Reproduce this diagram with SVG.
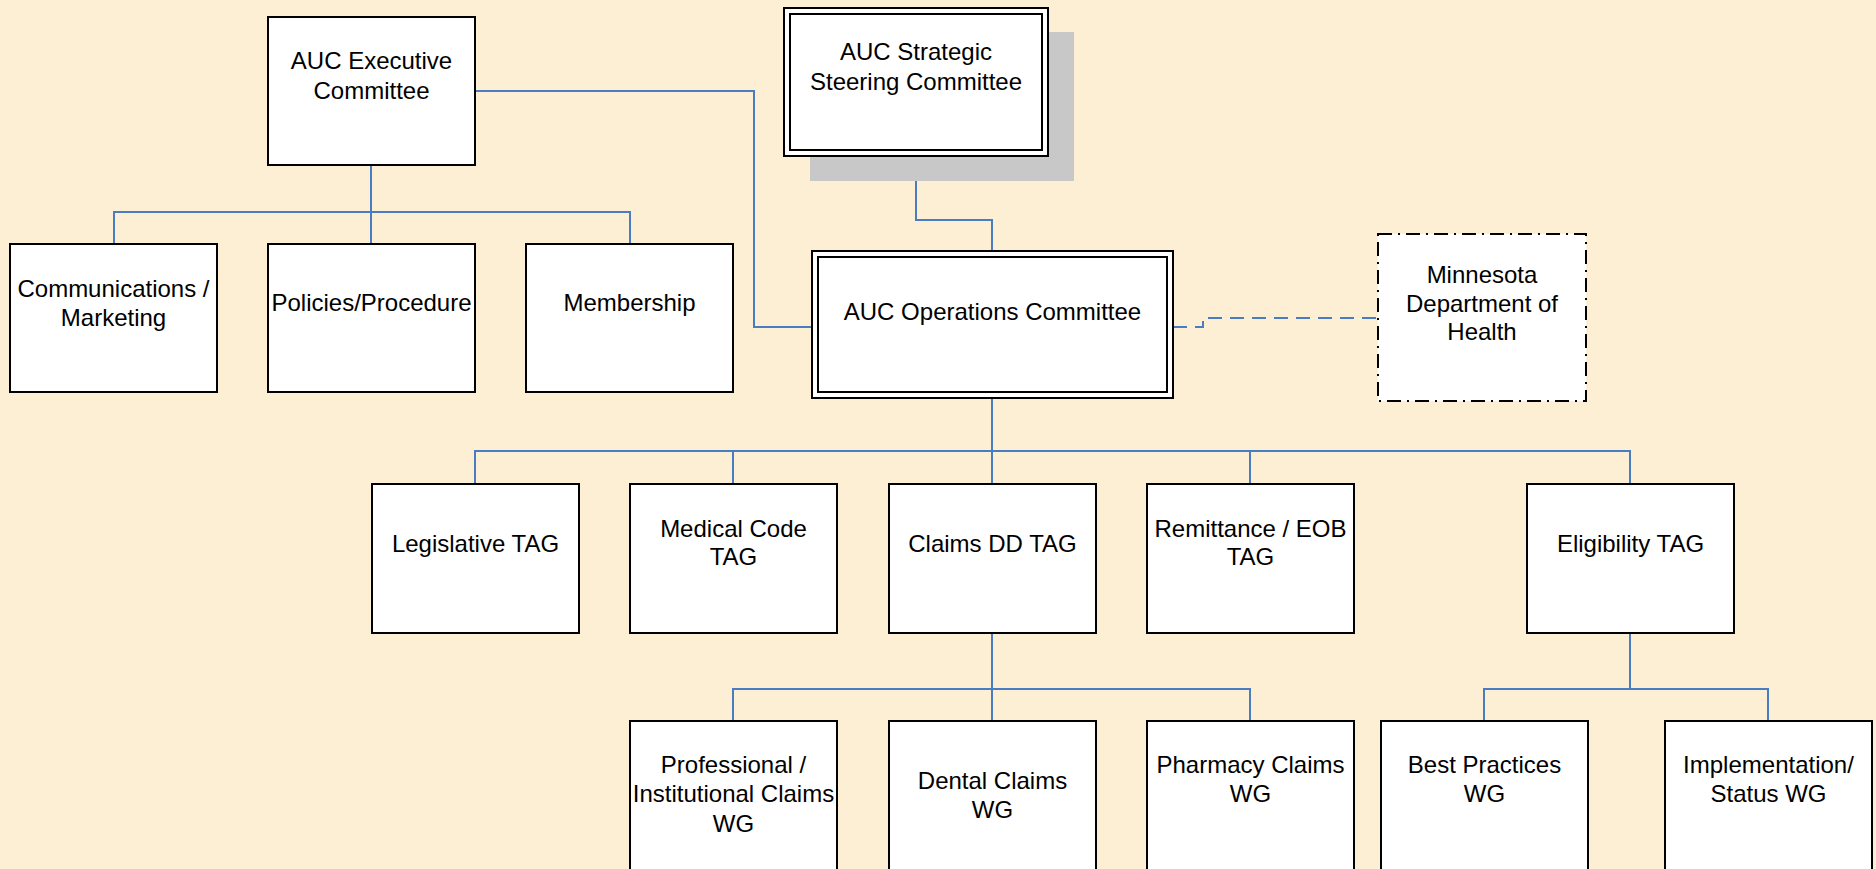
<svg xmlns="http://www.w3.org/2000/svg" width="1876" height="869" viewBox="0 0 1876 869">
<style>
.bg{fill:#FCEFD3}
.box{fill:#fff;stroke:#000;stroke-width:2}
.dbl{fill:none;stroke:#000;stroke-width:2}
.lbl{font-family:"Liberation Sans",Arial,sans-serif;font-size:24px;fill:#000;text-anchor:middle}
.con{fill:none;stroke:#4A7CC4;stroke-width:2}
.dash{fill:none;stroke:#4A7CC4;stroke-width:2;stroke-dasharray:14 8}
.dd{fill:#fff;stroke:#000;stroke-width:2;stroke-dasharray:14 6 2 6}
</style>
<rect class="bg" x="0" y="0" width="1876" height="869"/>
<g id="connectors">
<path class="con" d="M371 165 V212 M114 244 V212 H630 V244 M371 212 V244"/>
<path class="con" d="M475 91 H754 V327 H812"/>
<path class="con" d="M916 156 V220 H992 V251"/>
<path class="dash" d="M1173 327 H1203 V318 H1378"/>
<path class="con" d="M992 398 V451 M475 483 V451 H1630 V483 M733 451 V483 M992 451 V483 M1250 451 V483"/>
<path class="con" d="M992 633 V689 M733 720 V689 H1250 V720 M992 689 V720"/>
<path class="con" d="M1630 633 V689 M1484 720 V689 H1768 V720"/>
</g>
<g id="exec"><rect class="box" x="268" y="17" width="207" height="148"/><text class="lbl" x="371.5" y="69">AUC Executive</text><text class="lbl" x="371.5" y="99">Committee</text></g>
<g id="strategic"><rect x="810" y="32" width="264" height="149" fill="#C8C8C8"/><rect class="box" x="784" y="8" width="264" height="148"/><rect class="dbl" x="790" y="14" width="252" height="136"/><text class="lbl" x="916" y="60">AUC Strategic</text><text class="lbl" x="916" y="90">Steering Committee</text></g>
<g id="comm"><rect class="box" x="10" y="244" width="207" height="148"/><text class="lbl" x="113.5" y="297">Communications /</text><text class="lbl" x="113.5" y="326">Marketing</text></g>
<g id="policies"><rect class="box" x="268" y="244" width="207" height="148"/><text class="lbl" x="371.5" y="311">Policies/Procedure</text></g>
<g id="membership"><rect class="box" x="526" y="244" width="207" height="148"/><text class="lbl" x="629.5" y="311">Membership</text></g>
<g id="ops"><rect class="box" x="812" y="251" width="361" height="147"/><rect class="dbl" x="818" y="257" width="349" height="135"/><text class="lbl" x="992.5" y="320">AUC Operations Committee</text></g>
<g id="mdh"><rect class="dd" x="1378" y="234" width="208" height="167"/><text class="lbl" x="1482" y="283">Minnesota</text><text class="lbl" x="1482" y="312">Department of</text><text class="lbl" x="1482" y="340">Health</text></g>
<g id="legislative"><rect class="box" x="372" y="484" width="207" height="149"/><text class="lbl" x="475.5" y="552">Legislative TAG</text></g>
<g id="medical"><rect class="box" x="630" y="484" width="207" height="149"/><text class="lbl" x="733.5" y="537">Medical Code</text><text class="lbl" x="733.5" y="565">TAG</text></g>
<g id="claims"><rect class="box" x="889" y="484" width="207" height="149"/><text class="lbl" x="992.5" y="552">Claims DD TAG</text></g>
<g id="remittance"><rect class="box" x="1147" y="484" width="207" height="149"/><text class="lbl" x="1250.5" y="537">Remittance / EOB</text><text class="lbl" x="1250.5" y="565">TAG</text></g>
<g id="eligibility"><rect class="box" x="1527" y="484" width="207" height="149"/><text class="lbl" x="1630.5" y="552">Eligibility TAG</text></g>
<g id="prof"><rect class="box" x="630" y="721" width="207" height="160"/><text class="lbl" x="733.5" y="773">Professional /</text><text class="lbl" x="733.5" y="802">Institutional Claims</text><text class="lbl" x="733.5" y="832">WG</text></g>
<g id="dental"><rect class="box" x="889" y="721" width="207" height="160"/><text class="lbl" x="992.5" y="789">Dental Claims</text><text class="lbl" x="992.5" y="818">WG</text></g>
<g id="pharmacy"><rect class="box" x="1147" y="721" width="207" height="160"/><text class="lbl" x="1250.5" y="773">Pharmacy Claims</text><text class="lbl" x="1250.5" y="802">WG</text></g>
<g id="best"><rect class="box" x="1381" y="721" width="207" height="160"/><text class="lbl" x="1484.5" y="773">Best Practices</text><text class="lbl" x="1484.5" y="802">WG</text></g>
<g id="impl"><rect class="box" x="1665" y="721" width="207" height="160"/><text class="lbl" x="1768.5" y="773">Implementation/</text><text class="lbl" x="1768.5" y="802">Status WG</text></g>
</svg>
